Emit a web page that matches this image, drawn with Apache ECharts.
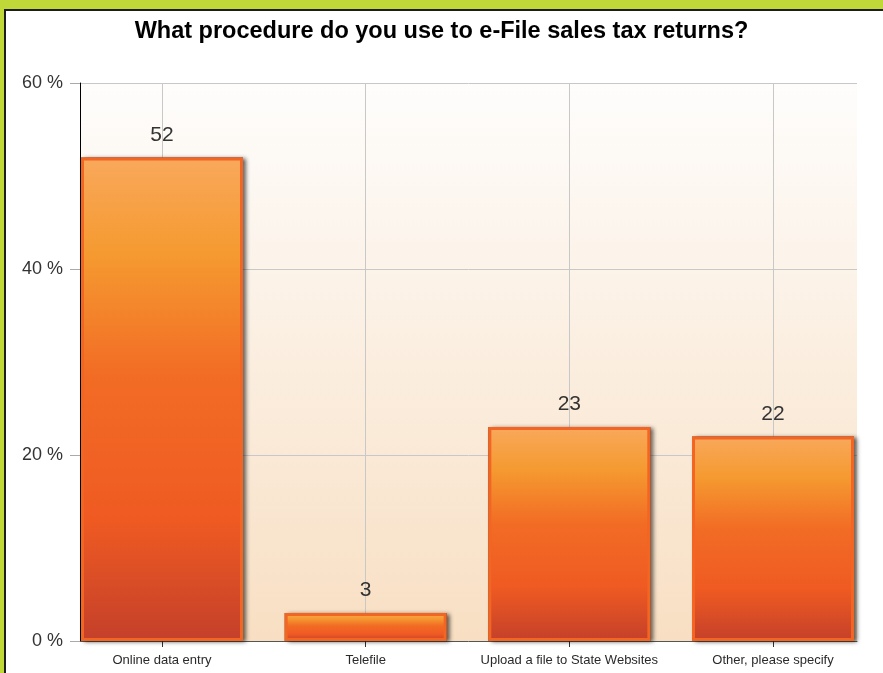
<!DOCTYPE html>
<html>
<head>
<meta charset="utf-8">
<script src="https://cdn.jsdelivr.net/npm/echarts@6.0.0/dist/echarts.min.js"></script>
<style>
  html, body { margin: 0; padding: 0; width: 883px; height: 673px; overflow: hidden; background: #c1d839; }
  #frame { position: absolute; left: 4px; top: 9px; width: 879px; height: 664px; background: #ffffff;
           border-left: 2px solid #1e1e1e; border-top: 2px solid #1e1e1e; box-sizing: border-box; }
  #chart { position: absolute; left: 0; top: 0; width: 883px; height: 673px; }
</style>
</head>
<body>
<div id="frame"></div>
<div id="chart"></div>
<script>
var titleText = 'What procedure do you use to e-File sales tax returns?';
var categories = ['Online data entry', 'Telefile', 'Upload a file to State Websites', 'Other, please specify'];
var values = [52, 3, 23, 22];
var yTicks = { min: 0, max: 60, interval: 20 };

var FONT = "'Liberation Sans', Arial, sans-serif";
var chart = echarts.init(document.getElementById('chart'), null, { renderer: 'canvas' });

var barGradient = new echarts.graphic.LinearGradient(0, 0, 0, 1, [
  { offset: 0, color: '#f9a85c' },
  { offset: 0.2, color: '#f59a30' },
  { offset: 0.45, color: '#f26c25' },
  { offset: 0.75, color: '#ef5a22' },
  { offset: 1, color: '#c4402a' }
]);

var option = {
  backgroundColor: 'transparent',
  animation: false,
  title: {
    text: titleText,
    left: 'center',
    top: 20,
    padding: 0,
    textStyle: { fontFamily: FONT, fontSize: 23.5, fontWeight: 'bold', color: '#000' }
  },
  grid: [
    {
      left: 80, right: 26, top: 83, bottom: 32,
      show: true, borderWidth: 0,
      backgroundColor: new echarts.graphic.LinearGradient(0, 0, 0, 1, [
        { offset: 0, color: '#fefdfc' },
        { offset: 1, color: '#f8dfc3' }
      ])
    },
    { left: 162, right: 110, top: 83, bottom: 32 }
  ],
  xAxis: [
    {
      gridIndex: 0, type: 'category', data: categories,
      axisLine: { show: true, lineStyle: { color: '#555', width: 1 } },
      axisTick: { show: false }, axisLabel: { show: false }, splitLine: { show: false }
    },
    {
      gridIndex: 1, type: 'category', data: categories, boundaryGap: false,
      axisLine: { show: false },
      axisTick: { show: true, length: 6, interval: 0, lineStyle: { color: '#333' } },
      axisLabel: { show: true, interval: 0, margin: 13, fontFamily: FONT, fontSize: 13, color: '#2a2a2a' },
      splitLine: { show: true, interval: 0, lineStyle: { color: '#c8c8c8', width: 1 } }
    }
  ],
  yAxis: [
    {
      gridIndex: 0, type: 'value', min: yTicks.min, max: yTicks.max, interval: yTicks.interval,
      axisLine: { show: true, lineStyle: { color: '#000', width: 1 } },
      axisTick: { show: true, length: 10, lineStyle: { color: '#aaa' } },
      axisLabel: { formatter: '{value} %', margin: 17, fontFamily: FONT, fontSize: 18, color: '#333' },
      splitLine: { show: true, lineStyle: { color: '#c8c8c8', width: 1 } }
    },
    {
      gridIndex: 1, type: 'value', min: yTicks.min, max: yTicks.max, interval: yTicks.interval, show: false
    }
  ],
  series: [
    {
      name: 'shadow',
      type: 'bar', xAxisIndex: 1, yAxisIndex: 1, data: values,
      barWidth: 162, clip: false, barGap: '-100%', silent: true,
      itemStyle: {
        color: '#7a3415',
        borderColor: '#7a3415', borderWidth: 4,
        shadowColor: 'rgba(0,0,0,0.5)', shadowBlur: 4, shadowOffsetX: 3, shadowOffsetY: 1
      },
      label: { show: false }
    },
    {
      name: 'bars',
      type: 'bar', xAxisIndex: 1, yAxisIndex: 1, data: values,
      barWidth: 162, clip: false, barGap: '-100%',
      itemStyle: {
        color: barGradient,
        borderColor: '#f26522', borderWidth: 3
      },
      label: {
        show: true, position: 'top', distance: 12,
        fontFamily: FONT, fontSize: 21, color: '#333'
      }
    }
  ]
};
chart.setOption(option);
</script>
</body>
</html>
